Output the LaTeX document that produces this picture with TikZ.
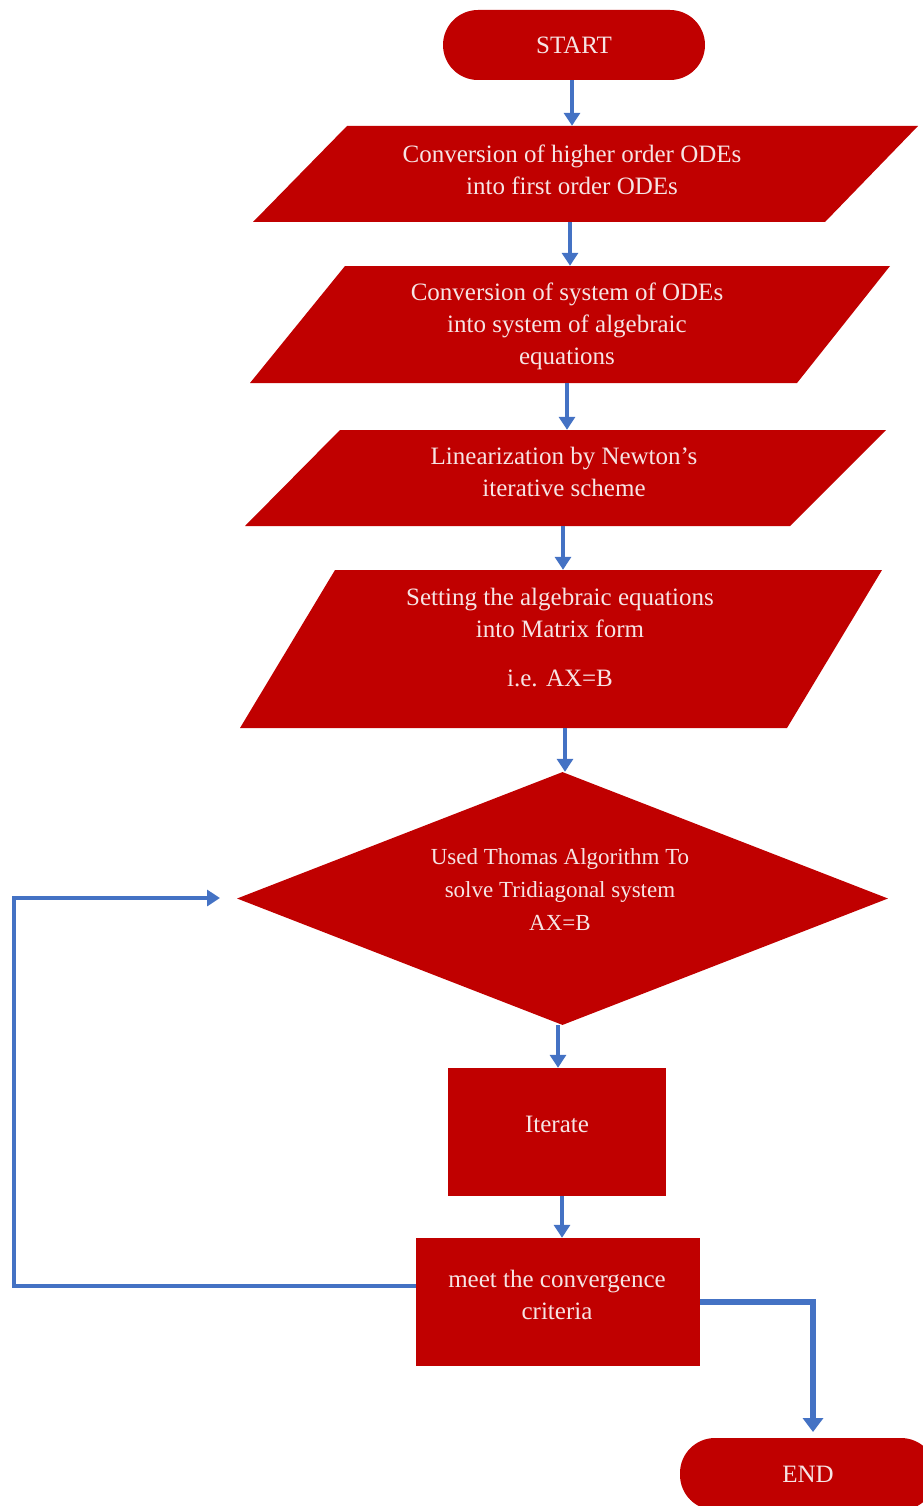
\documentclass[tikz,border=0pt]{standalone}
\usepackage{fontspec}
\setmainfont{Liberation Serif}
\usetikzlibrary{shapes.geometric,arrows.meta}
\definecolor{boxred}{RGB}{192,0,0}
\definecolor{arrblue}{RGB}{68,114,196}
\definecolor{txtw}{RGB}{246,228,228}
\tikzset{
  holder/.style={draw=none,inner sep=0pt,minimum width=10pt},
  lbl/.style={text=txtw,align=center,font=\fontsize{25}{32}\selectfont,inner sep=0pt},
  term/.style={fill=boxred,rounded corners=35pt,inner sep=0pt,text=txtw,font=\fontsize{25}{32}\selectfont},
  procbox/.style={fill=boxred,inner sep=0pt},
  conn/.style={draw=arrblue,line width=4pt,-{Triangle[width=16pt,length=13pt]}},
  pg/.style={fill=boxred}
}
\begin{document}
\begin{tikzpicture}[x=1pt,y=-1pt]
\useasboundingbox (0,0) rectangle (922,1506);
% START
\node[term,minimum width=262pt,minimum height=70pt] (start) at (574,45) {START};
% P1
\fill[pg] (253,222) -- (347,126) -- (918,126) -- (825,222) -- cycle;
\node[holder,minimum height=96pt] (p1) at (572,174) {};
\node[lbl] (p1t) at (572,170) {Conversion of higher order ODEs\\into first order ODEs};
% P2
\fill[pg] (250,383) -- (345,266) -- (890,266) -- (797,383) -- cycle;
\node[holder,minimum height=117pt] (p2) at (568,324.5) {};
\node[lbl] (p2t) at (567,326) {Conversion of system of ODEs\\into system of algebraic\\equations};
% P3
\fill[pg] (245,526) -- (340,430) -- (886,430) -- (790,526) -- cycle;
\node[holder,minimum height=96pt] (p3) at (565,478) {};
\node[lbl] (p3t) at (564,472) {Linearization by Newton's\\iterative scheme};
% P4
\fill[pg] (240,728) -- (335,570) -- (882,570) -- (787,728) -- cycle;
\node[holder,minimum height=158pt] (p4) at (564,649) {};
\node[lbl] (p4t) at (560,637) {Setting the algebraic equations\\into Matrix form\\[17pt]i.e. AX=B};
% Diamond
\node[diamond,fill=boxred,inner sep=0pt,minimum width=651pt,minimum height=253pt,shape aspect=2.57] (dia) at (562.5,898.5) {};
\node[lbl,font=\fontsize{23}{33}\selectfont] (diat) at (560,890) {Used Thomas Algorithm To\\solve Tridiagonal system\\AX=B};
% Iterate
\node[procbox,minimum width=218pt,minimum height=128pt] (iter) at (557,1132) {};
\node[lbl] (itert) at (557,1124) {Iterate};
% Convergence
\node[procbox,minimum width=284pt,minimum height=128pt] (conv) at (558,1302) {};
\node[lbl] (convt) at (557,1295) {meet the convergence\\criteria};
% END
\node[term,minimum width=256pt,minimum height=72pt] (end) at (808,1474) {END};
% connectors
\draw[conn] (start.south -| 572,0) -- (p1.north -| 572,0);
\draw[conn] (p1.south -| 570,0) -- (p2.north -| 570,0);
\draw[conn] (p2.south -| 567,0) -- (p3.north -| 567,0);
\draw[conn] (p3.south -| 563,0) -- (p4.north -| 563,0);
\draw[conn] (p4.south -| 565,0) -- (dia.north -| 565,0);
\draw[conn] (dia.south -| 558,0) -- (iter.north -| 558,0);
\draw[conn] (iter.south -| 562,0) -- (conv.north -| 562,0);
\coordinate (fbL) at (14,1286);
\coordinate (fbE) at (220,898);
\draw[conn,line width=3.5pt] (conv.west |- 0,1286) -- (fbL) |- (fbE);
\coordinate (exR) at (813,1302);
\coordinate (exE) at (813,1432);
\draw[conn,line width=5.5pt,-{Triangle[width=20pt,length=14pt]}] (conv.east |- 0,1302) -- (exR) -- (exE);
\end{tikzpicture}
\end{document}
